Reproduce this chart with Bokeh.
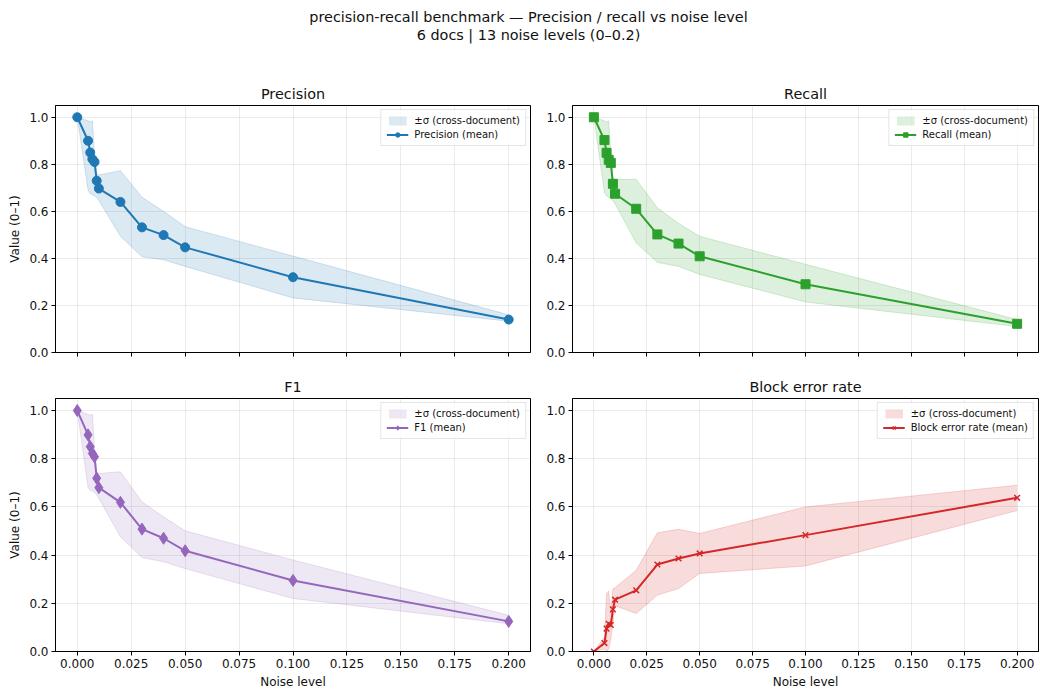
from bokeh.plotting import figure
from bokeh.layouts import column, row, Spacer
from bokeh.models import Title, FixedTicker, NumeralTickFormatter, Range1d, CustomLabelingPolicy
from bokeh.embed import file_html
from bokeh.resources import INLINE

FONT = "DejaVu Sans"
TXT = "#111111"

noise = [0.0, 0.005, 0.006, 0.007, 0.008, 0.009, 0.01, 0.02, 0.03, 0.04, 0.05, 0.1, 0.2]

precision_mean = [1.0, 0.90, 0.85, 0.822, 0.81, 0.73, 0.697, 0.64, 0.532, 0.499, 0.447, 0.32, 0.14]
precision_upper = [1.0, 0.985, 0.98, 0.985, 0.84, 0.76, 0.755, 0.773, 0.66, 0.60, 0.535, 0.41, 0.16]
precision_lower = [1.0, 0.69, 0.675, 0.67, 0.665, 0.66, 0.646, 0.494, 0.407, 0.394, 0.366, 0.232, 0.133]

recall_mean = [1.0, 0.903, 0.849, 0.819, 0.806, 0.717, 0.675, 0.611, 0.502, 0.463, 0.409, 0.29, 0.122]
recall_upper = [1.0, 0.985, 0.98, 0.985, 0.84, 0.74, 0.736, 0.736, 0.615, 0.549, 0.494, 0.375, 0.14]
recall_lower = [1.0, 0.68, 0.665, 0.66, 0.655, 0.645, 0.632, 0.466, 0.383, 0.366, 0.332, 0.215, 0.11]

f1_mean = [1.0, 0.899, 0.85, 0.822, 0.808, 0.719, 0.68, 0.619, 0.508, 0.47, 0.418, 0.295, 0.125]
f1_upper = [1.0, 0.985, 0.98, 0.985, 0.84, 0.745, 0.739, 0.746, 0.621, 0.559, 0.501, 0.38, 0.15]
f1_lower = [1.0, 0.68, 0.67, 0.665, 0.66, 0.65, 0.635, 0.476, 0.39, 0.372, 0.344, 0.22, 0.115]

ber_mean = [0.0, 0.035, 0.095, 0.115, 0.11, 0.175, 0.215, 0.254, 0.361, 0.386, 0.407, 0.483, 0.638]
ber_upper = [0.0, 0.06, 0.24, 0.25, 0.16, 0.26, 0.265, 0.337, 0.493, 0.507, 0.49, 0.60, 0.69]
ber_lower = [0.0, 0.01, 0.0, 0.01, 0.05, 0.12, 0.19, 0.158, 0.234, 0.261, 0.324, 0.355, 0.585]

x_ticks = [0.0, 0.025, 0.05, 0.075, 0.1, 0.125, 0.15, 0.175, 0.2]
y_ticks = [0.0, 0.2, 0.4, 0.6, 0.8, 1.0]

suptitle_1 = "precision-recall benchmark \u2014 Precision / recall vs noise level"
suptitle_2 = "6 docs | 13 noise levels (0\u20130.2)"

panels = [
    ("Precision", "Precision (mean)", precision_mean, precision_upper, precision_lower, "#1f77b4", "circle"),
    ("Recall", "Recall (mean)", recall_mean, recall_upper, recall_lower, "#2ca02c", "square"),
    ("F1", "F1 (mean)", f1_mean, f1_upper, f1_lower, "#9467bd", "diamond"),
    ("Block error rate", "Block error rate (mean)", ber_mean, ber_upper, ber_lower, "#d62728", "x"),
]

FRAME_H = 253
LEFT_W = 475
RIGHT_W = 468

hide_labels = CustomLabelingPolicy(code="return new indices.constructor(indices.size, 0)")


def make_panel(idx, spec):
    title, label, mean, upper, lower, color, marker = spec
    top = idx < 2
    left = idx % 2 == 0
    bl = 55 if left else 27
    br = 13 if left else 1
    bt = 29 if top else 30
    bb = 10 if top else 40
    fw = LEFT_W if left else RIGHT_W
    p = figure(width=bl + fw + br, height=bt + FRAME_H + bb,
               x_range=Range1d(-0.0101, 0.2101), y_range=Range1d(0, 1.05),
               output_backend="svg", toolbar_location=None,
               min_border_left=bl, min_border_right=br,
               min_border_top=bt, min_border_bottom=bb)
    p.title.text = title
    p.title.text_font = FONT
    p.title.text_font_size = "14.4px"
    p.title.text_font_style = "normal"
    p.title.text_color = TXT
    p.title.align = "center"
    p.title.standoff = 7
    p.outline_line_color = "black"
    p.outline_line_width = 1
    p.outline_line_alpha = 1

    p.varea(x=noise, y1=lower, y2=upper, fill_color=color, fill_alpha=0.16,
            legend_label="\u00b1\u03c3 (cross-document)")
    p.line(noise, upper, line_color=color, line_alpha=0.18, line_width=1)
    p.line(noise, lower, line_color=color, line_alpha=0.18, line_width=1)
    p.line(noise, mean, line_color=color, line_width=2, legend_label=label)
    if marker == "circle":
        p.scatter(noise, mean, marker="circle", size=9, fill_color=color, line_color=color, legend_label=label)
    elif marker == "square":
        p.scatter(noise, mean, marker="square", size=9, fill_color=color, line_color=color, legend_label=label)
    elif marker == "diamond":
        p.scatter(noise, mean, marker="diamond", size=12, fill_color=color, line_color=color, legend_label=label)
    else:
        p.scatter(noise, mean, marker="x", size=8, line_color=color, line_width=1.5, legend_label=label)

    for ax in (p.xaxis[0], p.yaxis[0]):
        ax.major_tick_out = 4
        ax.major_tick_in = 0
        ax.minor_tick_line_color = None
        ax.major_label_text_font = FONT
        ax.major_label_text_font_size = "12px"
        ax.major_label_text_color = TXT
        ax.major_label_standoff = 3
        ax.axis_label_text_font = FONT
        ax.axis_label_text_font_size = "12px"
        ax.axis_label_text_font_style = "normal"
        ax.axis_label_text_color = TXT
        ax.axis_label_standoff = 4
        ax.axis_line_color = "black"
        ax.major_tick_line_color = "black"
    p.xaxis.ticker = FixedTicker(ticks=x_ticks)
    p.yaxis.ticker = FixedTicker(ticks=y_ticks)
    p.xaxis.formatter = NumeralTickFormatter(format="0.000")
    p.yaxis.formatter = NumeralTickFormatter(format="0.0")
    if top:
        p.xaxis.major_label_policy = hide_labels
        p.xaxis.major_label_standoff = 0
    else:
        p.xaxis.axis_label = "Noise level"
    if left:
        p.yaxis.axis_label = "Value (0\u20131)"
    p.grid.grid_line_color = "#b0b0b0"
    p.grid.grid_line_alpha = 0.32
    p.grid.grid_line_width = 0.8

    lg = p.legend[0]
    lg.location = "top_right"
    lg.label_text_font = FONT
    lg.label_text_font_size = "10px"
    lg.label_text_color = TXT
    lg.glyph_width = 22
    lg.glyph_height = 11
    lg.label_height = 11
    lg.label_standoff = 6
    lg.spacing = 3
    lg.padding = 5
    lg.margin = 4
    lg.border_line_color = "#cccccc"
    lg.background_fill_alpha = 0.8
    return p


plots = [make_panel(i, s) for i, s in enumerate(panels)]

header = figure(width=1039, height=70, output_backend="svg", toolbar_location=None,
                x_axis_type=None, y_axis_type=None, min_border_left=17, min_border_right=0,
                min_border_top=0, min_border_bottom=0)
header.outline_line_color = None
header.grid.visible = False
header.title = None
header.add_layout(Title(text=suptitle_2, align="center", text_font=FONT, text_font_size="14.4px",
                        text_font_style="normal", text_color=TXT, standoff=0), "above")
header.add_layout(Title(text=suptitle_1, align="center", text_font=FONT, text_font_size="14.4px",
                        text_font_style="normal", text_color=TXT, standoff=0), "above")

layout = column(Spacer(width=10, height=6), header,
                row(plots[0], plots[1]), row(plots[2], plots[3]))

open("out.html", "w").write(file_html(layout, INLINE))
